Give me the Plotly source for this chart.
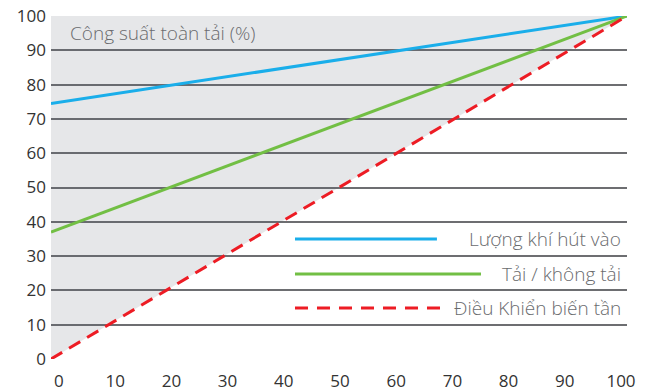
import plotly.graph_objects as go

x = [0, 100]
luong_khi = [74.5, 100]
tai_khong_tai = [37, 100]
bien_tan = [0, 100]
top = [100, 100]

names = ["Lượng khí hút vào", "Tải / không tải", "Điều Khiển biến tần"]
colors = ["#1aaeea", "#72bf44", "#ed1c24"]
title_text = "Công suất toàn tải (%)"
tick_vals = list(range(0, 101, 10))

FONT = "Open Sans"
fig = go.Figure()
fig.add_trace(go.Scatter(x=x, y=top, mode="lines", line=dict(width=0), showlegend=False, hoverinfo="skip"))
fig.add_trace(go.Scatter(x=x, y=bien_tan, mode="lines", line=dict(width=0), fill="tonexty",
                         fillcolor="rgba(88,95,108,0.15)", showlegend=False, hoverinfo="skip"))
fig.add_trace(go.Scatter(x=x, y=luong_khi, mode="lines", line=dict(color=colors[0], width=3), name=names[0]))
fig.add_trace(go.Scatter(x=x, y=tai_khong_tai, mode="lines", line=dict(color=colors[1], width=3), name=names[1]))
fig.add_trace(go.Scatter(x=x, y=bien_tan, mode="lines", line=dict(color=colors[2], width=3, dash="13px,8px"), name=names[2]))

# hidden axis carrying x tick labels (labels sit slightly offset from data positions)
fig.add_trace(go.Scatter(x=x, y=top, xaxis="x2", mode="lines", line=dict(width=0), showlegend=False, hoverinfo="skip"))

fig.update_layout(
    width=651, height=392,
    margin=dict(l=51, r=24, t=16, b=33, autoexpand=False),
    paper_bgcolor="white", plot_bgcolor="white",
    showlegend=False,
    xaxis=dict(range=[0, 100], showgrid=False, zeroline=False, showticklabels=False, fixedrange=True, automargin=False),
    xaxis2=dict(range=[-1.42, 101.07], overlaying="x", side="bottom", showgrid=False, zeroline=False,
                tickvals=tick_vals, ticks="", ticklabelstandoff=10, automargin=False,
                tickfont=dict(family=FONT, size=17, color="#333")),
    yaxis=dict(range=[0, 100], tickvals=tick_vals, showgrid=True, gridcolor="#6d6e71", gridwidth=1.5,
               zeroline=False, ticks="", ticklabelstandoff=4, automargin=False,
               tickfont=dict(family=FONT, size=17, color="#333")),
)

# title inside plot
fig.add_annotation(text=title_text, xref="paper", yref="paper", x=0.0295, y=0.950, xanchor="left", yanchor="middle",
                   showarrow=False, font=dict(family=FONT, size=19, color="#6a6b6e", weight=300))

# custom legend
leg_rows = [(0.350, 0.670, "solid"), (0.248, 0.7465, "solid"), (0.149, 0.6806, "13px,9px")]
for i, (yy, xend, dash) in enumerate(leg_rows):
    fig.add_shape(type="line", xref="paper", yref="paper", x0=0.4236, x1=xend, y0=yy, y1=yy,
                  line=dict(color=colors[i], width=3, dash=dash))
    fig.add_annotation(text=names[i], xref="paper", yref="paper", x=0.993, y=yy, xanchor="right", yanchor="middle",
                       showarrow=False, font=dict(family=FONT, size=19, color="#6a6b6e", weight=300))

fig.write_html("out.html")
